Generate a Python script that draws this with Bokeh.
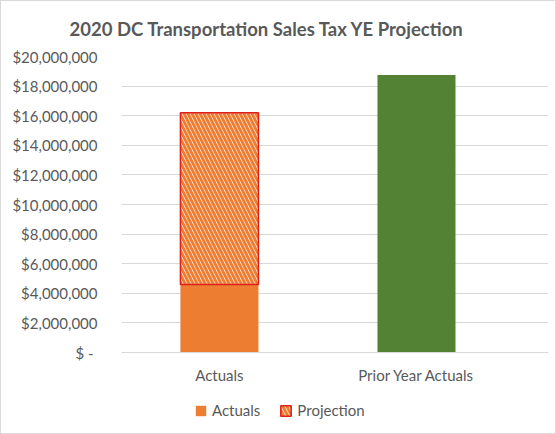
from bokeh.plotting import figure
from bokeh.models import (Range1d, FixedTicker, ColumnDataSource, Legend, LegendItem)
from bokeh.embed import file_html
from bokeh.resources import INLINE

# ---- data ----
categories = ["Actuals", "Prior Year Actuals"]
actuals = [4_600_000, 18_750_000]
projection = [11_600_000, 0]
bar_colors = ["#ED7D31", "#548235"]
y_ticks = [0, 2_000_000, 4_000_000, 6_000_000, 8_000_000, 10_000_000,
           12_000_000, 14_000_000, 16_000_000, 18_000_000, 20_000_000]
y_tick_labels = ["$\u00a0-\u00a0", "$2,000,000", "$4,000,000", "$6,000,000", "$8,000,000",
                 "$10,000,000", "$12,000,000", "$14,000,000", "$16,000,000",
                 "$18,000,000", "$20,000,000"]
title_text = "2020 DC Transportation Sales Tax YE Projection"

FONT = "Lato"
TXT = "#595959"

# layout (pixels)
PLOT_H = 296          # height from 0 to the top tick
BELOW = 75            # extra frame space below zero for labels and legend
y_top = y_ticks[-1]
y_bottom = -y_top * BELOW / PLOT_H

xpos = list(range(len(categories)))
proj_bottom = actuals
proj_top = [a + p for a, p in zip(actuals, projection)]

src_act = ColumnDataSource(dict(x=xpos, top=actuals, color=bar_colors))
src_proj = ColumnDataSource(dict(x=xpos[:1], bottom=proj_bottom[:1], top=proj_top[:1]))

p = figure(frame_width=427, frame_height=PLOT_H + BELOW,
           x_range=Range1d(-0.497, 1.67), y_range=Range1d(y_bottom, y_top),
           output_backend="svg", toolbar_location=None,
           min_border_left=120, min_border_right=7, min_border_top=55,
           min_border_bottom=6,
           styles={"border": "1px solid #D9D9D9"})

p.title.text = title_text
p.title.align = "left"
p.title.offset = -52
p.title.text_font = FONT
p.title.text_font_size = "18.5px"
p.title.text_font_style = "bold"
p.title.text_color = TXT
p.title.vertical_align = "top"
p.title.standoff = 30

r_act = p.vbar(x="x", top="top", bottom=0, width=0.396, source=src_act,
               fill_color="color", line_color=None)
r_proj = p.vbar(x="x", top="top", bottom="bottom", width=0.396, source=src_proj,
                fill_color="white", line_color="#E0201B", line_width=1.5,
                hatch_pattern="\\", hatch_color="#ED7D31", hatch_scale=8,
                hatch_weight=3)

p.outline_line_color = None
p.background_fill_color = "white"
p.border_fill_color = "white"

# y axis
p.yaxis.ticker = FixedTicker(ticks=y_ticks)
p.yaxis.major_label_overrides = {t: l for t, l in zip(y_ticks, y_tick_labels)}
p.yaxis.axis_line_color = None
p.yaxis.major_tick_line_color = None
p.yaxis.minor_tick_line_color = None
p.yaxis.major_label_text_font = FONT
p.yaxis.major_label_text_font_size = "15px"
p.yaxis.major_label_text_color = TXT
p.yaxis.major_label_standoff = 18

# x axis, drawn at zero inside the frame
p.xaxis.fixed_location = 0
p.xaxis.ticker = FixedTicker(ticks=xpos)
p.xaxis.major_label_overrides = {i: c for i, c in zip(xpos, categories)}
p.xaxis.axis_line_color = "#D9D9D9"
p.xaxis.major_tick_line_color = None
p.xaxis.minor_tick_line_color = None
p.xaxis.major_label_text_font = FONT
p.xaxis.major_label_text_font_size = "15px"
p.xaxis.major_label_text_color = TXT
p.xaxis.major_label_standoff = 7

p.xgrid.grid_line_color = None
p.ygrid.grid_line_color = "#D9D9D9"
p.ygrid.grid_line_width = 1

legend = Legend(items=[LegendItem(label="Actuals", renderers=[r_act], index=0),
                       LegendItem(label="Projection", renderers=[r_proj])],
                orientation="horizontal", location=(73, 8),
                border_line_color=None, background_fill_alpha=0,
                label_text_font=FONT, label_text_font_size="15px",
                label_text_color=TXT, glyph_width=13, glyph_height=13,
                label_standoff=5, spacing=19, padding=0, margin=0)
p.add_layout(legend, "center")

open("out.html", "w").write(file_html(p, INLINE))
